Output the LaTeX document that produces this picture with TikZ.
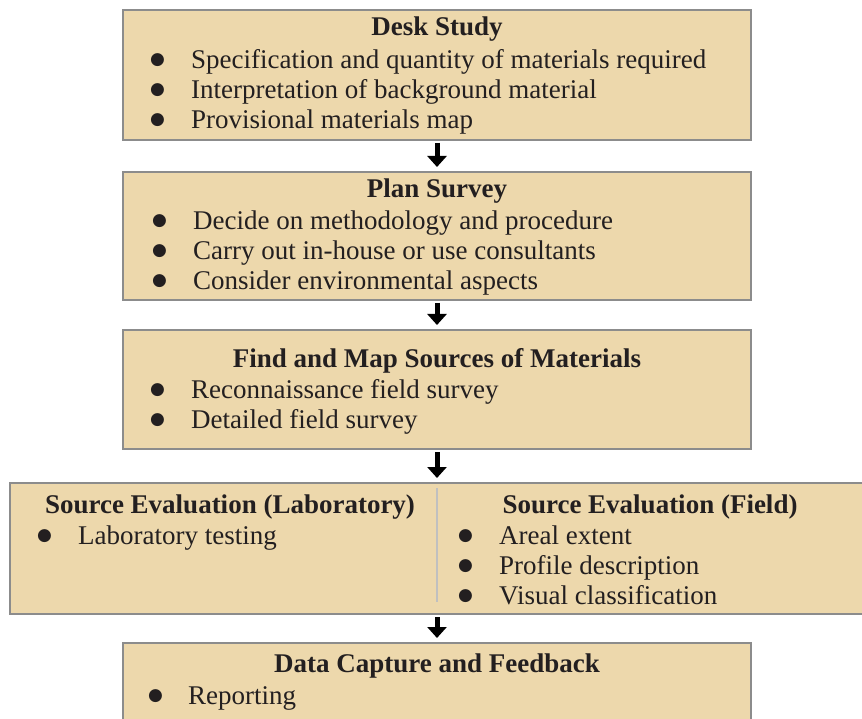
\documentclass[tikz,border=0pt]{standalone}
\usepackage{fontspec}
\setmainfont{Liberation Serif}
\newfontfamily\symfont{DejaVu Sans}
\usetikzlibrary{arrows.meta,positioning}
\definecolor{sand}{RGB}{237,216,172}
\definecolor{frame}{RGB}{140,140,140}
\definecolor{ink}{RGB}{35,31,32}
\newcommand{\bigbul}{\raisebox{4pt}{\symfont\fontsize{17}{30}\selectfont ●}}
\newcommand{\bul}{\makebox[43pt][l]{\hspace*{2pt}\bigbul}}

\begin{document}
\begin{tikzpicture}[x=1pt,y=-1pt,font=\fontsize{27}{30}\selectfont,text=ink,
box/.style={draw=frame,fill=sand,line width=1.5pt,minimum width=628pt,inner sep=0pt,outer sep=0pt},
head/.style={font=\fontsize{27}{30}\selectfont\bfseries,inner sep=0pt,anchor=base},
item/.style={inner sep=0pt,anchor=base west},
divider/.style={draw=frame!55,line width=1.5pt},
arr/.style={-{Triangle[width=19pt,length=11pt]},line width=5pt,shorten <=3pt,shorten >=5pt}]
\useasboundingbox (0,0) rectangle (862,719);
\node[box,minimum height=130pt,anchor=north west] (desk) at (123,10) {};
\node[box,minimum height=128pt,below=32pt of desk] (plan) {};
\node[box,minimum height=119pt,below=30pt of plan] (find) {};
\node[box,minimum height=131pt,minimum width=854pt,below=34pt of find] (eval) {};
\node[box,minimum height=90pt,below=29pt of eval] (report) {};
% box texts
\node[head] (desk-t) at ([yshift=-26pt]desk.north) {Desk Study};
\foreach \t [count=\i] in {Specification and quantity of materials required,
  Interpretation of background material,Provisional materials map}
  \node[item] (desk-\i) at ([xshift=25pt,yshift={-(29+30*\i)}]desk.north west) {\bul\t};
\node[head] (plan-t) at ([yshift=-26pt]plan.north) {Plan Survey};
\foreach \t [count=\i] in {Decide on methodology and procedure,
  Carry out in-house or use consultants,Consider environmental aspects}
  \node[item] (plan-\i) at ([xshift=27pt,yshift={-(28+30*\i)}]plan.north west) {\bul\t};
\node[head] (find-t) at ([yshift=-37pt]find.north) {Find and Map Sources of Materials};
\foreach \t [count=\i] in {Reconnaissance field survey,Detailed field survey}
  \node[item] (find-\i) at ([xshift=25pt,yshift={-(38+30*\i)}]find.north west) {\bul\t};
\draw[divider] ([yshift=-5pt]eval.north) -- ([yshift=12pt]eval.south);
\node[head] (lab-t) at ([xshift=-207pt,yshift=-30pt]eval.north) {Source Evaluation (Laboratory)};
\node[item] (lab-1) at ([xshift=25pt,yshift=-61pt]eval.north west) {\bul Laboratory testing};
\node[head] (field-t) at ([xshift=213pt,yshift=-30pt]eval.north) {Source Evaluation (Field)};
\foreach \t [count=\i] in {Areal extent,Profile description,Visual classification}
  \node[item] (field-\i) at ([xshift=19pt,yshift={-(31+30*\i)}]eval.north) {\bul\t};
\node[head] (report-t) at ([yshift=-29pt]report.north) {Data Capture and Feedback};
\node[item] (report-1) at ([xshift=23pt,yshift=-61pt]report.north west) {\makebox[42pt][l]{\hspace*{2pt}\bigbul}Reporting};
% flow
\draw[arr] (desk) -- (plan);
\draw[arr] (plan) -- (find);
\draw[arr] (find) -- (eval);
\draw[arr] (eval) -- (report);
\end{tikzpicture}
\end{document}
